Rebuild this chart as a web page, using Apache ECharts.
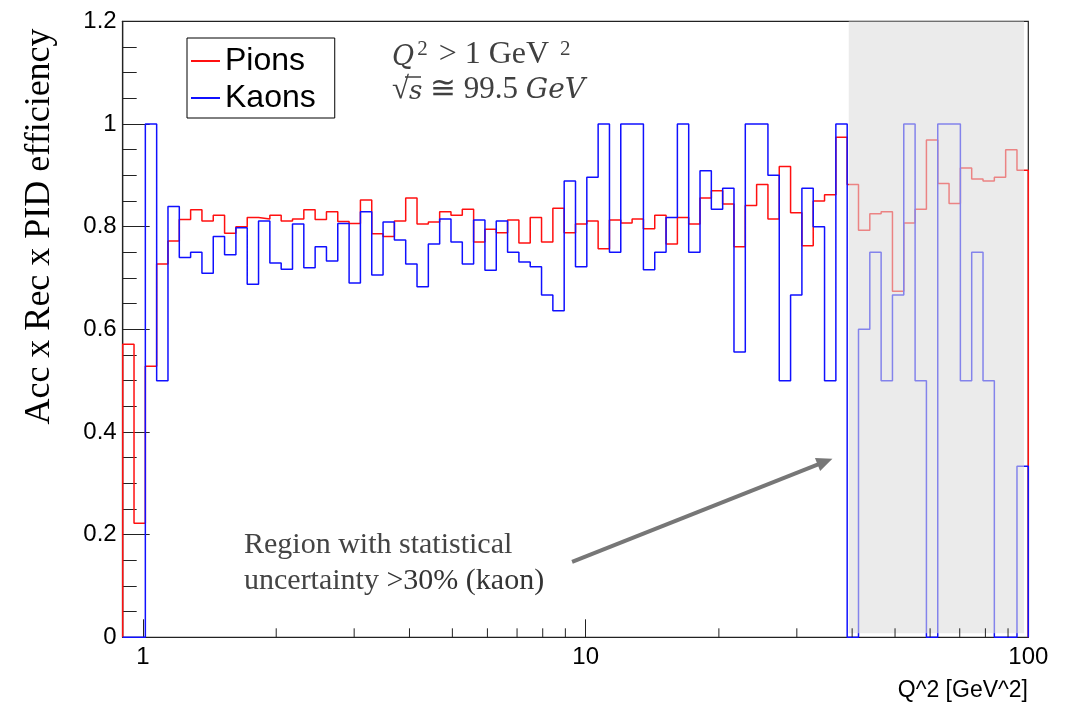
<!DOCTYPE html>
<html>
<head>
<meta charset="utf-8">
<script src="https://cdn.jsdelivr.net/npm/echarts@6/dist/echarts.min.js"></script>
<style>
  html, body { margin: 0; padding: 0; background: #fff; }
  #chart { width: 1077px; height: 704px; }
</style>
</head>
<body>
<div id="chart"></div>
<script>
// Histogram binning: 80 log-uniform bins in Q^2 from 0.9 to 100 GeV^2
const Q2_MIN = 0.9;
const Q2_MAX = 100;
const N_BINS = 80;

// Efficiency per bin
const pions = [
  0.571, 0.222, 0.528, 0.727, 0.772, 0.814, 0.833, 0.811, 0.822, 0.787,
  0.800, 0.818, 0.815, 0.822, 0.811, 0.815, 0.833, 0.814, 0.829, 0.810,
  0.806, 0.852, 0.786, 0.781, 0.811, 0.856, 0.805, 0.809, 0.829, 0.822,
  0.834, 0.770, 0.795, 0.788, 0.813, 0.768, 0.818, 0.770, 0.836, 0.788,
  0.805, 0.811, 0.757, 0.813, 0.807, 0.815, 0.796, 0.822, 0.766, 0.818,
  0.805, 0.856, 0.870, 0.844, 0.761, 0.841, 0.882, 0.815, 0.917, 0.827,
  0.763, 0.850, 0.862, 0.974, 0.882, 0.793, 0.825, 0.829, 0.674, 0.807,
  0.834, 0.969, 0.884, 0.845, 0.914, 0.893, 0.889, 0.896, 0.950, 0.910
];
const kaons = [
  0, 0, 1.0, 0.5, 0.839, 0.740, 0.750, 0.709, 0.781, 0.745,
  0.798, 0.688, 0.811, 0.729, 0.717, 0.805, 0.720, 0.761, 0.733, 0.806,
  0.690, 0.829, 0.706, 0.809, 0.774, 0.727, 0.683, 0.766, 0.815, 0.770,
  0.727, 0.813, 0.715, 0.811, 0.750, 0.731, 0.722, 0.667, 0.636, 0.889,
  0.722, 0.896, 1.0, 0.750, 1.0, 1.0, 0.716, 0.750, 0.818, 1.0,
  0.750, 0.909, 0.834, 0.875, 0.556, 1.0, 1.0, 0.900, 0.5, 0.667,
  0.875, 0.800, 0.5, 1.0, 0, 0.600, 0.750, 0.5, 0.667, 1.0,
  0.5, 0, 1.0, 1.0, 0.5, 0.750, 0.5, 0, 0, 0.333
];

// Axis tick definitions
const yTickValues = ['0', '0.2', '0.4', '0.6', '0.8', '1', '1.2'];
const xMinorTicks = [2, 3, 4, 5, 6, 7, 8, 9, 20, 30, 40, 50, 60, 70, 80, 90];

// Shaded region (Q^2 range with large kaon statistical uncertainty)
const shadeRange = [39.3, 97.8];
// Arrow annotation endpoints [Q2, eff]
const arrowFrom = [9.32, 0.147];
const arrowTo = [36.1, 0.348];

const edges = [];
for (let i = 0; i <= N_BINS; i++) edges.push(Q2_MIN * Math.pow(Q2_MAX / Q2_MIN, i / N_BINS));

function histPath(vals) {
  const pts = [[edges[0], 0]];
  for (let i = 0; i < vals.length; i++) {
    pts.push([edges[i], vals[i]]);
    pts.push([edges[i + 1], vals[i]]);
  }
  pts.push([edges[vals.length], 0]);
  return pts;
}

const chart = echarts.init(document.getElementById('chart'), null, { renderer: 'canvas' });
const FRAME = '#222';
const MATH = '#404040';

const option = {
  animation: false,
  backgroundColor: '#fff',
  grid: { left: 122.7, right: 48.7, top: 21.3, bottom: 66.7, show: true, borderColor: FRAME, borderWidth: 1.2, backgroundColor: 'transparent' },
  legend: {
    left: 187, top: 38, orient: 'vertical',
    backgroundColor: '#fff', borderColor: '#000', borderWidth: 1,
    padding: [7, 19, 4, 4], itemWidth: 29, itemHeight: 2, itemGap: 5,
    textStyle: { fontFamily: 'Liberation Sans', fontSize: 32, color: '#000', lineHeight: 31, padding: [0, 0, 0, 0] },
    data: [{ name: 'Pions', icon: 'rect' }, { name: 'Kaons', icon: 'rect' }]
  },
  xAxis: {
    type: 'log', logBase: 10, min: Q2_MIN, max: Q2_MAX,
    axisLine: { show: true, lineStyle: { color: FRAME, width: 1.2 } },
    axisTick: { show: true, inside: true, length: 18, lineStyle: { color: FRAME, width: 1 } },
    axisLabel: { showMinLabel: false, margin: 8, fontFamily: 'Liberation Sans', fontSize: 24, color: '#000' },
    splitLine: { show: false }
  },
  yAxis: {
    type: 'value', min: 0, max: 1.2, interval: 0.2,
    axisLine: { show: true, lineStyle: { color: FRAME, width: 1.2 } },
    axisTick: { show: true, inside: true, length: 27, lineStyle: { color: FRAME, width: 1 } },
    minorTick: { show: true, splitNumber: 4, length: 14, lineStyle: { color: FRAME, width: 1 } },
    axisLabel: { margin: 6, fontFamily: 'Liberation Sans', fontSize: 24, color: '#000',
      formatter: (v) => yTickValues[Math.round(v / 0.2)] },
    splitLine: { show: false }
  },
  series: [
    {
      name: 'Pions', type: 'line', data: histPath(pions), showSymbol: false, symbol: 'none',
      lineStyle: { color: '#ff1010', width: 1.5 }, itemStyle: { color: '#ff1010' }, z: 2
    },
    {
      name: 'Kaons', type: 'line', data: histPath(kaons), showSymbol: false, symbol: 'none',
      lineStyle: { color: '#1010ff', width: 1.5 }, itemStyle: { color: '#1010ff' }, z: 3
    },
    {
      type: 'custom', z: 10, clip: false, silent: true,
      data: [shadeRange],
      renderItem: (params, api) => {
        const p0 = api.coord([api.value(0), 1.2]);
        const p1 = api.coord([api.value(1), 0.008]);
        return { type: 'rect', shape: { x: p0[0], y: p0[1], width: p1[0] - p0[0], height: p1[1] - p0[1] },
          style: { fill: 'rgba(220,220,220,0.57)' } };
      }
    },
    {
      type: 'custom', z: 11, clip: false, silent: true,
      data: xMinorTicks.map(v => [v]),
      renderItem: (params, api) => {
        const p = api.coord([api.value(0), 0]);
        return { type: 'line', shape: { x1: p[0], y1: p[1], x2: p[0], y2: p[1] - 9 },
          style: { stroke: FRAME, lineWidth: 1 } };
      }
    },
    {
      type: 'custom', z: 12, clip: false, silent: true,
      data: [[arrowFrom[0], arrowFrom[1], arrowTo[0], arrowTo[1]]],
      renderItem: (params, api) => {
        const a = api.coord([api.value(0), api.value(1)]);
        const b = api.coord([api.value(2), api.value(3)]);
        const dx = b[0] - a[0], dy = b[1] - a[1];
        const L = Math.sqrt(dx * dx + dy * dy);
        const ux = dx / L, uy = dy / L;
        const head = 16, half = 7;
        const bx = b[0] - ux * head, by = b[1] - uy * head;
        return { type: 'group', children: [
          { type: 'line', shape: { x1: a[0], y1: a[1], x2: bx + ux * 2, y2: by + uy * 2 },
            style: { stroke: '#777', lineWidth: 4 } },
          { type: 'polygon', shape: { points: [[b[0], b[1]], [bx - uy * half, by + ux * half], [bx + uy * half, by - ux * half]] },
            style: { fill: '#777' } }
        ] };
      }
    }
  ],
  graphic: [
    {
      type: 'text', x: 40, y: 226.5, rotation: Math.PI / 2,
      style: { text: 'Acc x Rec x PID efficiency', fontFamily: 'Liberation Serif', fontSize: 36, fill: '#000',
        textAlign: 'center', textVerticalAlign: 'middle' }
    },
    {
      type: 'text', x: 1028, y: 691,
      style: { text: 'Q^2 [GeV^2]', fontFamily: 'Liberation Sans', fontSize: 23, fill: '#000',
        textAlign: 'right', textVerticalAlign: 'middle' }
    },
    {
      type: 'text', x: 392, y: 71,
      style: {
        text: '{qi|Q}{sup|2}{n| > 1 GeV }{sup|2}',
        textVerticalAlign: 'bottom',
        rich: {
          qi: { fontFamily: 'DejaVu Serif', fontStyle: 'italic', fontSize: 27, fill: MATH, verticalAlign: 'bottom' },
          n: { fontFamily: 'Liberation Serif', fontSize: 32, fill: MATH, verticalAlign: 'bottom' },
          sup: { fontFamily: 'Liberation Serif', fontSize: 21, fill: MATH, verticalAlign: 'top', padding: [0, 3, 0, 3] }
        }
      }
    },
    {
      type: 'text', x: 392, y: 105,
      style: {
        text: '{n|√}{si|s}{n| ≅ 99.5 }{gi|GeV}',
        textVerticalAlign: 'bottom',
        rich: {
          n: { fontFamily: 'Liberation Serif', fontSize: 31, fill: MATH, verticalAlign: 'bottom' },
          si: { fontFamily: 'DejaVu Serif', fontStyle: 'italic', fontSize: 26, fill: MATH, verticalAlign: 'bottom' },
          gi: { fontFamily: 'DejaVu Serif', fontStyle: 'italic', fontSize: 28, fill: MATH, verticalAlign: 'bottom' }
        }
      }
    },
    {
      type: 'line', shape: { x1: 405, y1: 77, x2: 421, y2: 77 }, style: { stroke: MATH, lineWidth: 1.5 }
    },
    {
      type: 'text', x: 244, y: 560,
      style: { text: 'Region with statistical', fontFamily: 'Liberation Serif', fontSize: 30, fill: '#444',
        textVerticalAlign: 'bottom' }
    },
    {
      type: 'text', x: 244, y: 596,
      style: {
        text: '{a|uncertainty }{b|>30% (kaon)}',
        textVerticalAlign: 'bottom',
        rich: {
          a: { fontFamily: 'Liberation Serif', fontSize: 30, fill: '#444' },
          b: { fontFamily: 'Liberation Serif', fontSize: 30, fill: '#333' }
        }
      }
    }
  ]
};
chart.setOption(option);
</script>
</body>
</html>
